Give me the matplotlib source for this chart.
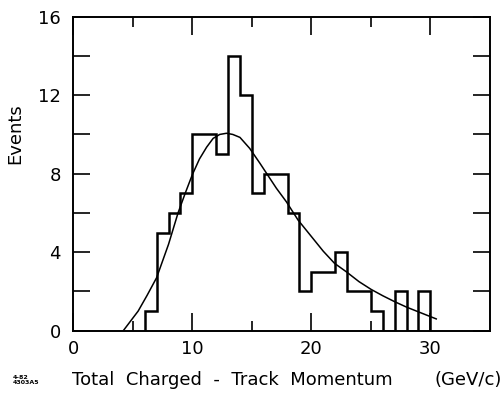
import numpy as np
import matplotlib
matplotlib.use('Agg')
import matplotlib.pyplot as plt

plt.rcParams['font.family'] = ['DejaVu Sans']

# histogram, 1 GeV/c bins from 6 to 30
bin_edges = list(range(6, 31))
counts = [1, 5, 6, 7, 10, 10, 9, 14, 12, 7, 8, 8, 6, 2, 3, 3, 4, 2, 2, 1, 0, 2, 0, 2]

# fitted curve
curve_x = [4.2, 5.45, 6.2, 7.0, 8.0, 8.8, 9.4, 10.0, 10.6, 11.2, 11.75, 12.3, 12.87,
           13.4, 14.0, 14.82, 15.68, 17.06, 17.9, 18.88, 20.0, 21.0, 21.95, 22.94,
           24.0, 25.03, 26.0, 26.99, 28.0, 28.95, 30.49]
curve_y = [0.0, 1.0, 1.8, 2.7, 4.4, 6.0, 7.0, 7.95, 8.75, 9.35, 9.8, 10.0, 10.06,
           10.0, 9.85, 9.29, 8.53, 7.26, 6.57, 5.64, 4.8, 4.05, 3.43, 3.0,
           2.5, 2.1, 1.78, 1.48, 1.2, 0.97, 0.6]

xticks = [0, 10, 20, 30]
yticks = [0, 4, 8, 12, 16]

fig = plt.figure(figsize=(5.03, 3.94), dpi=100)
ax = fig.add_axes([0.1457, 0.1607, 0.8283, 0.7969])

ax.stairs(counts, bin_edges, color='k', lw=1.8)
ax.plot(curve_x, curve_y, color='k', lw=1.1)

ax.set_xlim(0, 35)
ax.set_ylim(0, 16)
ax.set_xticks(xticks)
ax.set_xticks([5, 15, 25], minor=True)
ax.set_yticks(yticks)
ax.set_yticks([2, 6, 10, 14], minor=True)
ax.tick_params(which='both', direction='in', top=True, right=True, width=1.2,
               labelsize=13, pad=7)
ax.tick_params(axis='y', pad=9)
ax.tick_params(axis='x', which='major', length=13)
ax.tick_params(axis='x', which='minor', length=7)
ax.tick_params(axis='y', which='both', length=12)
for s in ax.spines.values():
    s.set_linewidth(1.4)

fig.text(0.030, 0.66, 'Events', rotation=90, ha='center', va='center', fontsize=13)
fig.text(0.143, 0.036, 'Total  Charged  -  Track  Momentum', ha='left', va='center',
         fontsize=13)
fig.text(0.998, 0.036, '(GeV/c)', ha='right', va='center', fontsize=13)
fig.text(0.026, 0.036, '4-82\n4303A5', ha='left', va='center', fontsize=4.5,
         fontweight='bold', linespacing=1.0)

fig.savefig('out.png', dpi=100)
